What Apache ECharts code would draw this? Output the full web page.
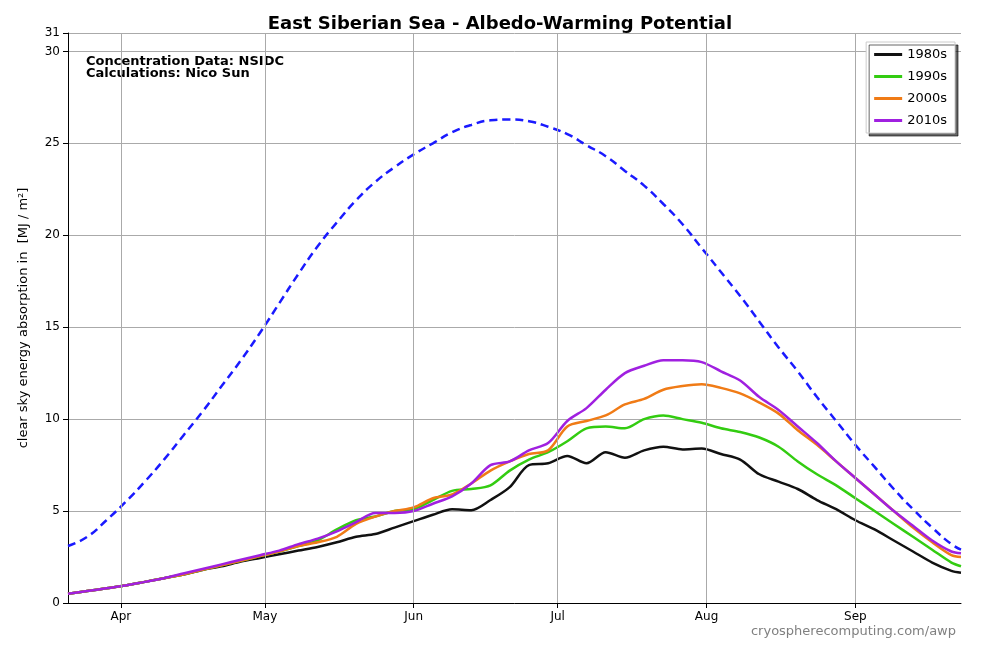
<!DOCTYPE html>
<html><head><meta charset="utf-8">
<script src="https://cdn.jsdelivr.net/npm/echarts@6/dist/echarts.min.js"></script>
<style>html,body{margin:0;background:#fff}#c{width:1000px;height:650px}</style>
</head><body><div id="c"></div>
<script>
// day index 0 = Mar 21
const days = [0,4,8,12,16,20,24,28,32,36,40,44,48,52,56,60,64,68,72,76,80,84,88,92,96,100,104,108,112,116,120,124,128,132,136,140,144,148,152,156,160,164,168,172,176,180,184,186];
const monthTicks = [11,41,72,102,133,164];
const monthLabels = ['Apr','May','Jun','Jul','Aug','Sep'];
const maxPotential = [3.1,3.6,4.5,5.5,6.6,7.8,9.1,10.4,11.8,13.2,14.7,16.3,17.9,19.4,20.7,21.9,22.9,23.7,24.4,25.0,25.6,26.0,26.25,26.3,26.2,25.9,25.5,24.9,24.3,23.5,22.7,21.7,20.6,19.3,18.0,16.7,15.3,13.9,12.6,11.2,9.9,8.6,7.4,6.2,5.1,4.1,3.2,2.9];
const s1980 = [0.5,0.65,0.8,0.95,1.15,1.35,1.55,1.8,2.0,2.25,2.45,2.65,2.85,3.05,3.3,3.6,3.75,4.1,4.45,4.8,5.1,5.05,5.6,6.3,7.5,7.6,8.0,7.6,8.2,7.9,8.3,8.5,8.35,8.4,8.1,7.8,7.0,6.6,6.2,5.6,5.1,4.5,4.0,3.4,2.8,2.2,1.75,1.65];
const s1990 = [0.5,0.65,0.8,0.95,1.15,1.35,1.55,1.8,2.05,2.3,2.55,2.8,3.1,3.4,4.0,4.5,4.7,5.0,5.1,5.6,6.1,6.2,6.4,7.2,7.8,8.2,8.8,9.5,9.6,9.5,10.0,10.2,10.0,9.8,9.5,9.3,9.0,8.5,7.7,7.0,6.4,5.7,5.0,4.3,3.6,2.9,2.2,2.0];
const s2000 = [0.5,0.65,0.8,0.95,1.15,1.35,1.55,1.8,2.05,2.3,2.55,2.8,3.1,3.3,3.6,4.3,4.7,5.0,5.2,5.7,5.9,6.5,7.2,7.7,8.1,8.3,9.6,9.9,10.2,10.8,11.1,11.6,11.8,11.9,11.7,11.4,10.9,10.3,9.4,8.6,7.7,6.8,5.9,5.0,4.1,3.3,2.6,2.5];
const s2010 = [0.5,0.65,0.8,0.95,1.15,1.35,1.6,1.85,2.1,2.35,2.6,2.85,3.2,3.5,3.9,4.4,4.9,4.9,5.0,5.4,5.8,6.5,7.5,7.7,8.3,8.7,9.9,10.6,11.6,12.5,12.9,13.2,13.2,13.1,12.6,12.1,11.2,10.5,9.6,8.7,7.7,6.8,5.9,5.0,4.2,3.4,2.8,2.7];
const pair = a => days.map((d,i)=>[d,a[i]]);
const line = (name,data,color,dash)=>({name,type:'line',data:pair(data),showSymbol:false,smooth:dash?0.5:0.3,
  lineStyle:{color,width:2.5,type:dash?[8,5]:'solid'},itemStyle:{color},z:dash?2:3});
const chart = echarts.init(document.getElementById('c'));
const grid = 'rgba(170,170,170,1)';
chart.setOption({
  animation:false,
  title:{text:'East Siberian Sea - Albedo-Warming Potential',left:'center',top:10,textStyle:{fontFamily:'DejaVu Sans',fontSize:18,fontWeight:'bold',color:'#000'}},
  grid:{left:68,right:39,top:33,bottom:47},
  xAxis:{type:'value',min:0,max:186,
    axisLine:{lineStyle:{color:'#000'}},splitLine:{show:false},
    axisTick:{customValues:monthTicks,lineStyle:{color:'#000'}},
    axisLabel:{customValues:monthTicks,formatter:v=>monthLabels[monthTicks.indexOf(v)]||'',color:'#000',fontFamily:'DejaVu Sans',fontSize:12}},
  yAxis:{type:'value',min:0,max:31,interval:5,
    name:'clear sky energy absorption in  [MJ / m²]',nameLocation:'middle',nameGap:38,
    nameTextStyle:{fontFamily:'DejaVu Sans',fontSize:13,color:'#000'},
    axisLine:{show:true,lineStyle:{color:'#000'}},axisTick:{show:true},
    splitLine:{lineStyle:{color:grid}},
    axisLabel:{color:'#000',fontFamily:'DejaVu Sans',fontSize:12}},
  legend:{data:['1980s','1990s','2000s','2010s'],orient:'vertical',right:45,top:42,
    itemWidth:28,itemHeight:3,itemGap:9,icon:'rect',backgroundColor:'#fff',borderColor:'#ccc',borderWidth:1,
    padding:[6,8],shadowColor:'rgba(0,0,0,0.6)',shadowOffsetX:3,shadowOffsetY:3,shadowBlur:0,
    textStyle:{fontFamily:'DejaVu Sans',fontSize:13,color:'#000'}},
  graphic:[
    {type:'text',left:86,top:55,style:{text:'Concentration Data: NSIDC\nCalculations: Nico Sun',font:'bold 13px DejaVu Sans',fill:'#000',lineHeight:12}},
    {type:'text',right:44,top:625,style:{text:'cryospherecomputing.com/awp',font:'13px DejaVu Sans',fill:'#808080'}}
  ],
  series:[
    Object.assign(line('max',maxPotential,'#1a1aff',true),{markLine:{silent:true,symbol:'none',label:{show:false},
      lineStyle:{color:grid,type:'solid',width:1},data:monthTicks.map(v=>({xAxis:v}))}}),
    line('1980s',s1980,'#111111'),
    line('1990s',s1990,'#33cc11'),
    line('2000s',s2000,'#f07b16'),
    line('2010s',s2010,'#a020e0')
  ]
});
</script></body></html>
